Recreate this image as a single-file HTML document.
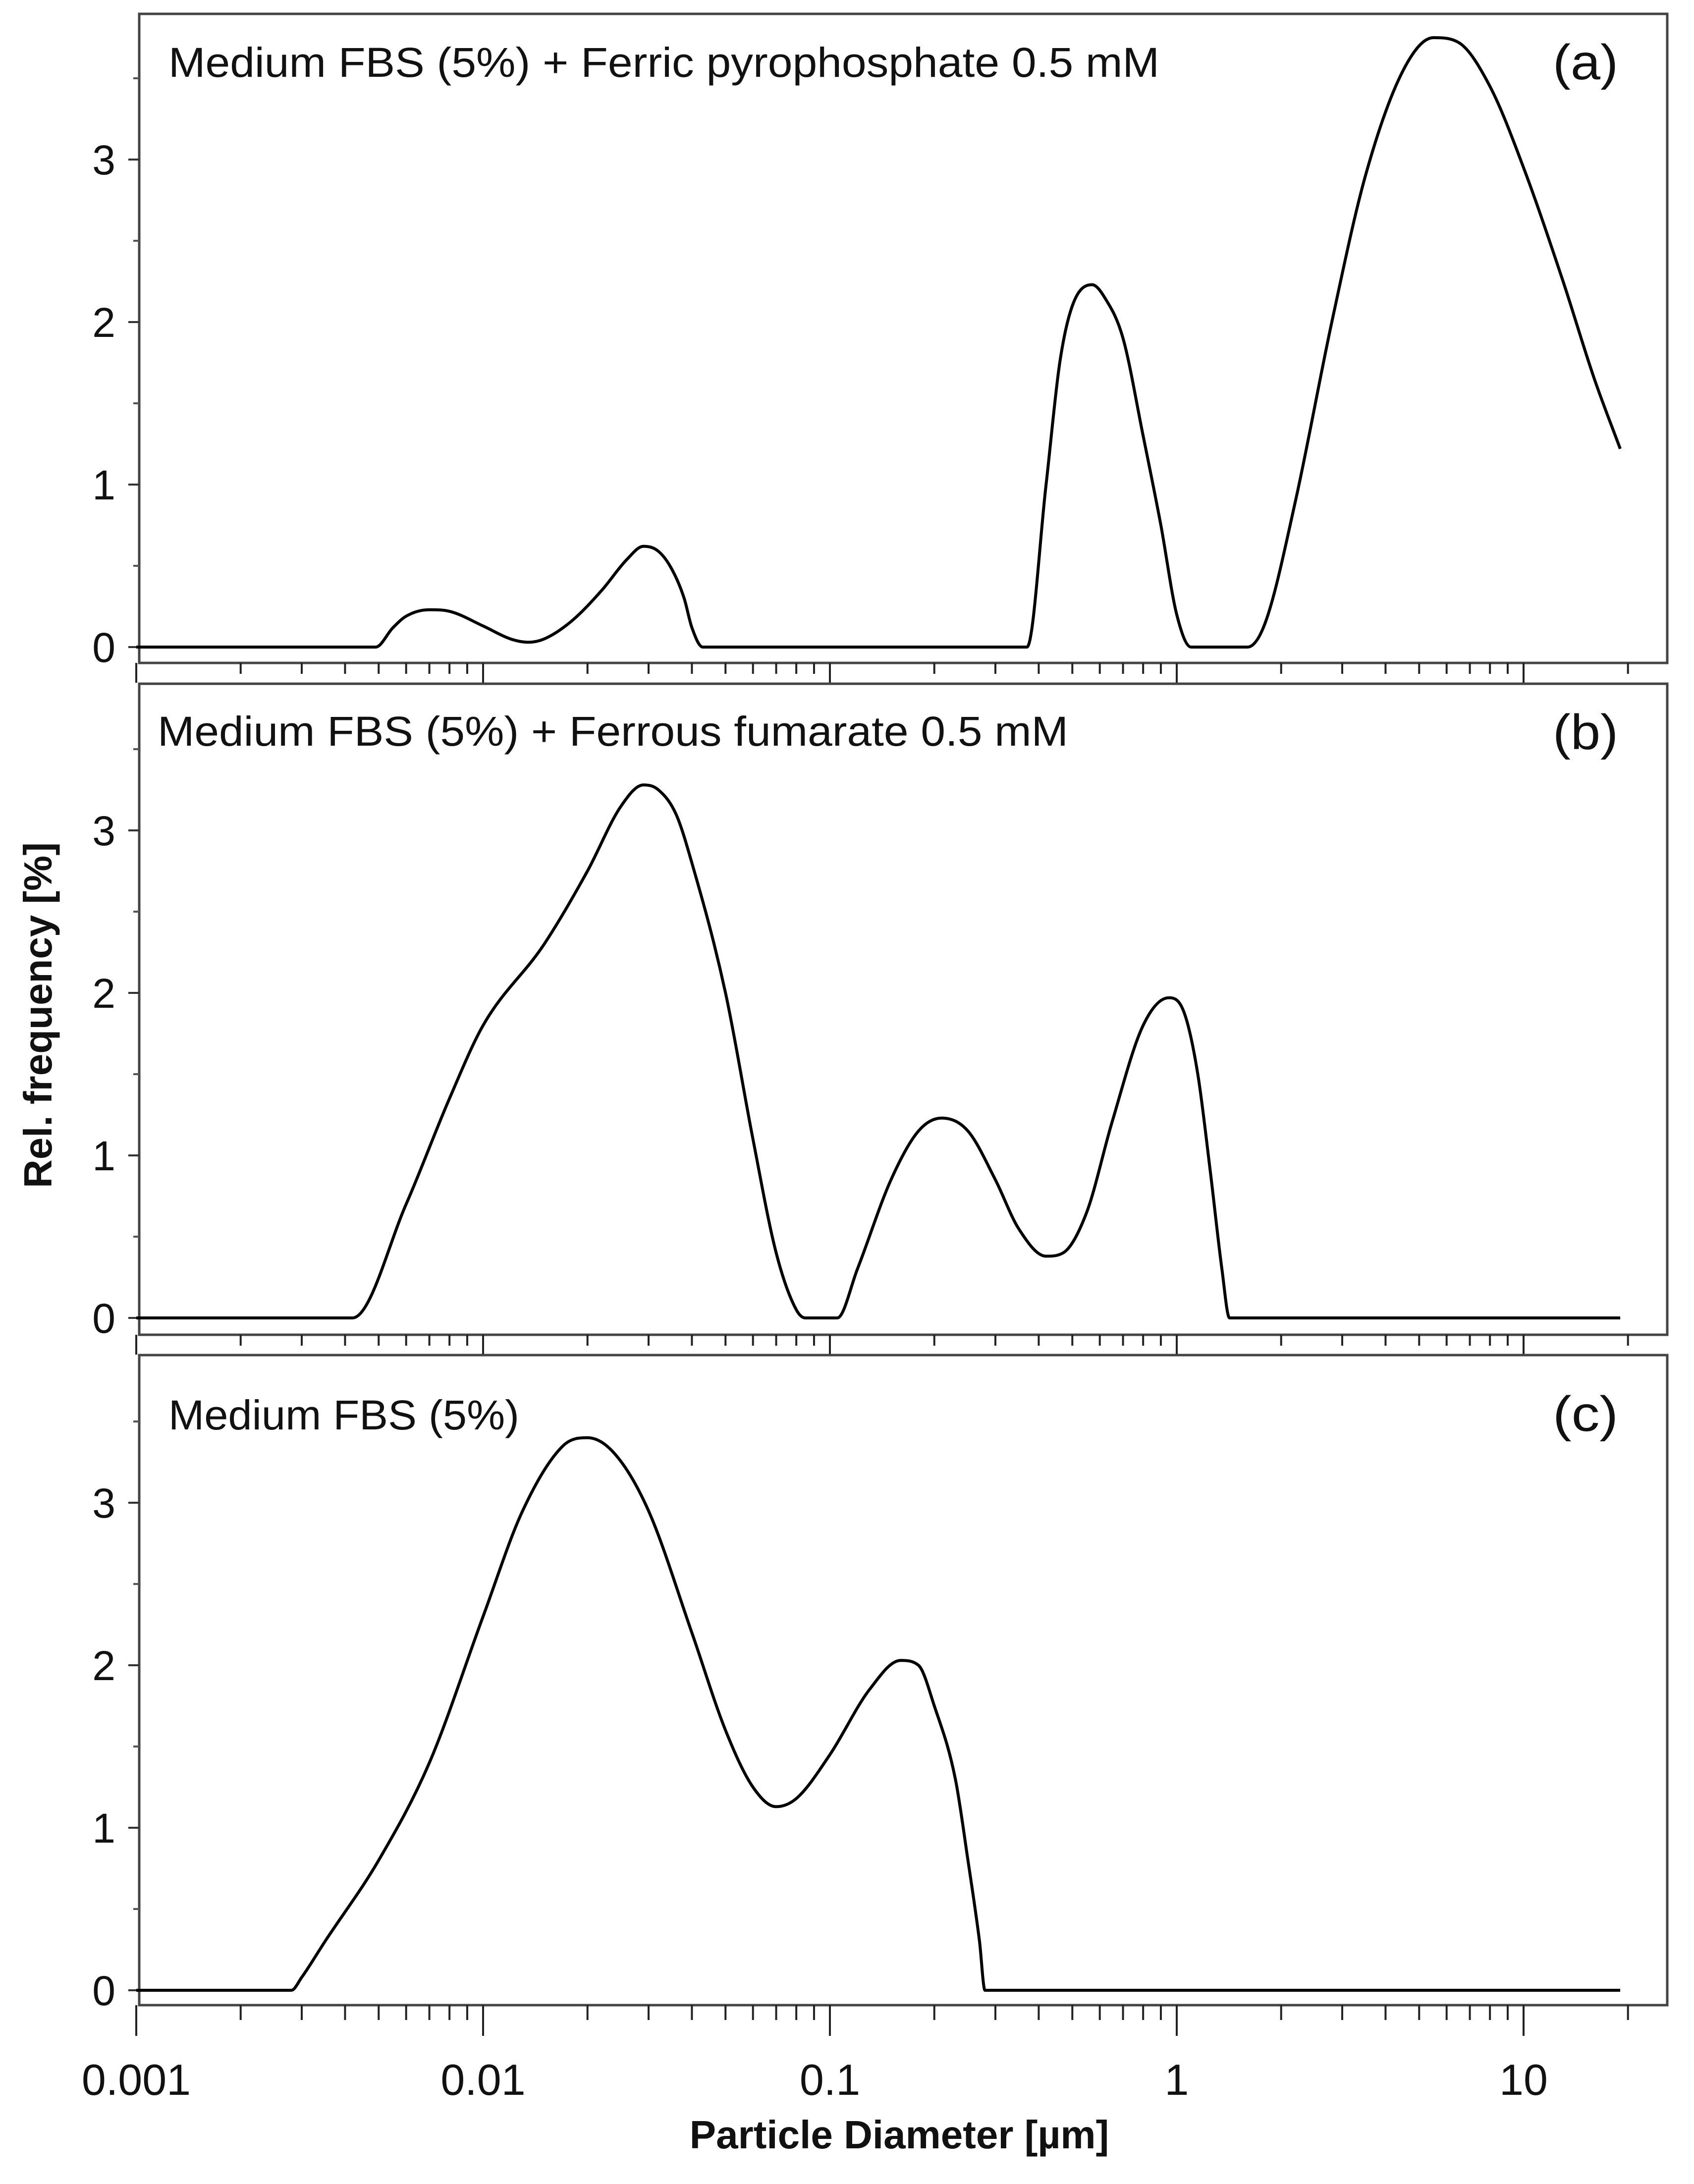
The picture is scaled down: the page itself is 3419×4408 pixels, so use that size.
<!DOCTYPE html>
<html><head><meta charset="utf-8"><style>
html,body{margin:0;padding:0;background:#fff;}
svg{display:block;}
</style></head><body>
<svg id="chart" width="3419" height="4408" viewBox="0 0 3419 4408" xmlns="http://www.w3.org/2000/svg" font-family="'Liberation Sans', sans-serif">
<rect width="3419" height="4408" fill="#fff"/>
<text x="0" y="0" transform="translate(104,2049) rotate(-90)" text-anchor="middle" font-size="80" font-weight="bold" fill="#111">Rel. frequency [%]</text>
<text x="1815" y="4336" text-anchor="middle" font-size="80" font-weight="bold" fill="#111">Particle Diameter [µm]</text>
<g id="panels"></g>
</svg>
<script>
const xTickValues = [0.001, 0.01, 0.1, 1, 10];
const xTickLabels = ["0.001", "0.01", "0.1", "1", "10"];
const yTickValues = [0, 1, 2, 3];
const panelTitles = ["Medium FBS (5%) + Ferric pyrophosphate 0.5 mM", "Medium FBS (5%) + Ferrous fumarate 0.5 mM", "Medium FBS (5%)"];
const panelTags = ["(a)", "(b)", "(c)"];
const sizesA = [0.001,0.0049,0.0055,0.006,0.007,0.008,0.01,0.012,0.0135,0.015,0.018,0.022,0.026,0.029,0.032,0.035,0.038,0.04,0.043,0.37,0.42,0.46,0.5,0.57,0.62,0.7,0.8,0.9,1.0,1.1,1.6,1.8,2.2,2.8,3.5,4.5,5.5,6.5,8,10,13,16,19];
const freqA  = [0,0,0.12,0.19,0.23,0.22,0.13,0.05,0.03,0.05,0.16,0.35,0.54,0.62,0.59,0.48,0.3,0.12,0,0,1.0,1.75,2.1,2.23,2.15,1.9,1.3,0.75,0.2,0,0,0.15,0.9,2.0,2.9,3.55,3.75,3.72,3.45,2.95,2.25,1.65,1.22];
const sizesB = [0.001,0.0042,0.006,0.008,0.01,0.015,0.02,0.025,0.029,0.032,0.036,0.04,0.05,0.06,0.07,0.08,0.085,0.105,0.12,0.15,0.18,0.21,0.25,0.3,0.35,0.42,0.47,0.55,0.65,0.8,0.95,1.05,1.15,1.25,1.35,1.42,19];
const freqB  = [0,0,0.7,1.35,1.8,2.3,2.75,3.15,3.28,3.25,3.1,2.8,2.0,1.1,0.4,0.05,0,0,0.3,0.85,1.15,1.23,1.15,0.85,0.55,0.38,0.4,0.65,1.2,1.8,1.97,1.88,1.5,0.9,0.3,0,0];
const sizesC = [0.001,0.0028,0.003,0.0035,0.005,0.007,0.01,0.013,0.017,0.02,0.024,0.03,0.04,0.05,0.06,0.07,0.08,0.1,0.13,0.16,0.18,0.2,0.23,0.25,0.27,0.28,19];
const freqC  = [0,0,0.08,0.3,0.8,1.4,2.3,2.95,3.35,3.4,3.3,2.95,2.2,1.6,1.25,1.13,1.18,1.45,1.85,2.03,2.0,1.75,1.3,0.8,0.3,0,0];

const NS = "http://www.w3.org/2000/svg";
const root = document.getElementById("panels");
const LEFT = 281, RIGHT = 3365, X0 = 275, DEC = 700, UNIT = 328;
const tops = [28, 1380, 2735], bottoms = [1338, 2694, 4047], zeros = [1306, 2660, 4017];
const series = [[sizesA, freqA], [sizesB, freqB], [sizesC, freqC]];
function xs(v){ return X0 + Math.log10(v / 0.001) * DEC; }
function mk(tag, attrs, parent){ const e = document.createElementNS(NS, tag); for (const k in attrs) e.setAttribute(k, attrs[k]); (parent||root).appendChild(e); return e; }
function monotonePath(X, Y){
  const n = X.length, d = [], m = [];
  for (let i = 0; i < n - 1; i++) d.push((Y[i+1]-Y[i])/(X[i+1]-X[i]));
  m[0] = d[0]; m[n-1] = d[n-2];
  for (let i = 1; i < n - 1; i++) m[i] = (d[i-1]*d[i] <= 0) ? 0 : (d[i-1]+d[i])/2;
  for (let i = 0; i < n - 1; i++) {
    if (d[i] === 0) { m[i] = 0; m[i+1] = 0; continue; }
    const a = m[i]/d[i], b = m[i+1]/d[i], s = a*a + b*b;
    if (s > 9) { const t = 3/Math.sqrt(s); m[i] = t*a*d[i]; m[i+1] = t*b*d[i]; }
  }
  let p = "M" + X[0].toFixed(1) + "," + Y[0].toFixed(1);
  for (let i = 0; i < n - 1; i++) {
    const h = (X[i+1]-X[i])/3;
    p += " C" + (X[i]+h).toFixed(1) + "," + (Y[i]+m[i]*h).toFixed(1) + " " + (X[i+1]-h).toFixed(1) + "," + (Y[i+1]-m[i+1]*h).toFixed(1) + " " + X[i+1].toFixed(1) + "," + Y[i+1].toFixed(1);
  }
  return p;
}

for (let p = 0; p < 3; p++) {
  const g = mk("g", {});
  
  
  const ys = v => zeros[p] - v * UNIT;
  const frame = mk("rect", {x: LEFT, y: tops[p], width: RIGHT - LEFT, height: bottoms[p] - tops[p], fill: "none", stroke: "#444", "stroke-width": 5}, g);
  
  
  for (let i = 0; i < yTickValues.length; i++) {
    const v = yTickValues[i];
    const t = mk("line", {x1: LEFT - 22, x2: LEFT, y1: ys(v), y2: ys(v), stroke: "#333", "stroke-width": 4}, g);
    
    
    const m = mk("line", {x1: LEFT - 12, x2: LEFT, y1: ys(v + 0.5), y2: ys(v + 0.5), stroke: "#555", "stroke-width": 4}, g);
    
    
    const lb = mk("text", {x: LEFT - 48, y: ys(v) + 30, "text-anchor": "end", "font-size": 84, fill: "#111"}, g);
    lb.textContent = String(v);
    
    
  }
  const majLen = p === 2 ? 62 : 40, minLen = p === 2 ? 30 : 22;
  for (let d = 0; d < 5; d++) {
    for (let k = 1; k <= 9; k++) {
      const v = xTickValues[d] * k;
      const x = xs(v);
      if (x > RIGHT) continue;
      const t = mk("line", {x1: x, x2: x, y1: bottoms[p], y2: bottoms[p] + (k === 1 ? majLen : minLen), stroke: "#222", "stroke-width": 4}, g);
      
      
    }
  }
  const [sx, sy] = series[p];
  const line = mk("path", {d: monotonePath(sx.map(xs), sy.map(ys)), fill: "none", stroke: "#000", "stroke-width": 6, "stroke-linejoin": "round"}, g);
  
  
  const titleY = [155, 1505, 2885][p];
  const titleX = [340, 318, 340][p];
  const titleW = [2000, 1838, 708][p];
  const tt = mk("text", {x: titleX, y: titleY, "font-size": 84, fill: "#111", textLength: titleW, lengthAdjust: "spacingAndGlyphs"}, g);
  tt.textContent = panelTitles[p];
  
  
  const tag = mk("text", {x: 3134, y: [160, 1512, 2888][p], "font-size": 100, fill: "#111", textLength: 132, lengthAdjust: "spacingAndGlyphs"}, g);
  tag.textContent = panelTags[p];
  
  
}
for (let i = 0; i < xTickValues.length; i++) {
  const t = mk("text", {x: xs(xTickValues[i]), y: 4228, "text-anchor": "middle", "font-size": 88, fill: "#111"});
  t.textContent = xTickLabels[i];
  
  
}
</script>
</body></html>
